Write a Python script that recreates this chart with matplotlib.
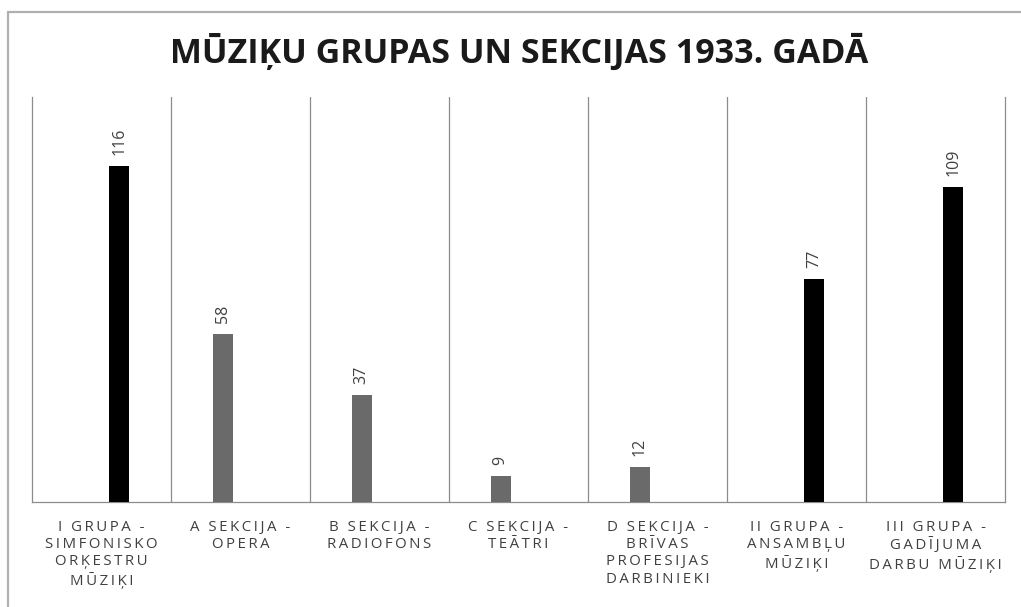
import matplotlib
matplotlib.use("Agg")
import matplotlib.pyplot as plt
import numpy as np
from matplotlib.patches import Rectangle

categories = [
    "I GRUPA -\nSIMFONISKO\nORĶESTRU\nMŪZIĶI",
    "A SEKCIJA -\nOPERA",
    "B SEKCIJA -\nRADIOFONS",
    "C SEKCIJA -\nTEĀTRI",
    "D SEKCIJA -\nBRĪVAS\nPROFESIJAS\nDARBINIEKI",
    "II GRUPA -\nANSAMBĻU\nMŪZIĶI",
    "III GRUPA -\nGADĪJUMA\nDARBU MŪZIĶI",
]
grupas = [116, None, None, None, None, 77, 109]
sekcijas = [None, 58, 37, 9, 12, None, None]

TXT = "#404040"
FAM = ["Open Sans", "DejaVu Sans"]


def spaced(s):
    # mimic the wide letter tracking of the original labels
    return "\n".join("\u2009".join(line) for line in s.split("\n"))


fig = plt.figure(figsize=(10.21, 6.07), dpi=100)
ax = fig.add_axes([32/1021, 1 - 502/607, (1005 - 32)/1021, (502 - 97)/607])

x = np.arange(len(categories))
w = 0.145
off = 0.128

for i, v in enumerate(sekcijas):
    if v is None:
        continue
    ax.bar(x[i] - off, v, width=w, color="#6a6a6a", zorder=3)
    ax.annotate(str(v), (x[i] - off, v), xytext=(0, 8), textcoords="offset points",
                rotation=90, ha="center", va="bottom", fontsize=11.5, color=TXT, family=FAM)
for i, v in enumerate(grupas):
    if v is None:
        continue
    ax.bar(x[i] + off, v, width=w, color="black", zorder=3)
    ax.annotate(str(v), (x[i] + off, v), xytext=(0, 8), textcoords="offset points",
                rotation=90, ha="center", va="bottom", fontsize=11.5, color=TXT, family=FAM)

ax.set_xlim(-0.5, len(categories) - 0.5)
ax.set_ylim(0, 140)
for b in np.arange(0.5, len(categories) - 0.5, 1):
    ax.axvline(b, color="#8c8c8c", lw=0.9, zorder=1)

ax.spines["top"].set_visible(False)
for side in ["left", "right", "bottom"]:
    ax.spines[side].set_color("#8c8c8c")
    ax.spines[side].set_linewidth(0.9)

ax.set_yticks([])
ax.set_xticks(x)
ax.set_xticklabels([spaced(c) for c in categories], fontsize=10.8, color=TXT,
                   family=FAM, linespacing=1.2, va="top")
ax.tick_params(axis="x", length=0, pad=13)

fig.text(0.508, 0.914, "MŪZIĶU GRUPAS UN SEKCIJAS 1933. GADĀ", ha="center", va="center",
         fontsize=24.5, weight="bold", color="#1a1a1a", family=FAM)

# outer frame of the chart object
fig.patches.append(Rectangle((8/1021, -0.05), 1.1, 1.05 - 12/607, transform=fig.transFigure,
                             fill=False, edgecolor="#b0b0b0", lw=1.6))

fig.savefig("out.png", dpi=100)
